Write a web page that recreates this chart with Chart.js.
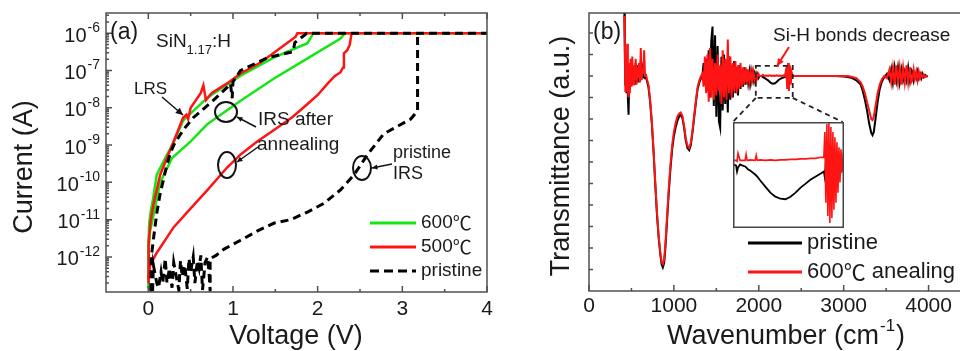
<!DOCTYPE html>
<html>
<head>
<meta charset="utf-8">
<title>SiN1.17:H I-V and FTIR</title>
<script src="https://cdn.jsdelivr.net/npm/chart.js@4.4.1/dist/chart.umd.min.js"></script>
<style>
  html, body { margin: 0; padding: 0; background: #fff; width: 960px; height: 351px; overflow: hidden; }
  canvas { position: absolute; top: 0; }
  #ivChart { left: 0; }
  #ftirChart { left: 540px; }
  #insetChart { background: #fff; }
</style>
</head>
<body>
<canvas id="ivChart" width="500" height="351"></canvas>
<canvas id="ftirChart" width="440" height="351"></canvas>
<canvas id="insetChart"></canvas>
<script>
// ---------- panel (a): I-V sweeps ----------
const voltTicks = [0, 1, 2, 3, 4];
const voltMinor = [0.5, 1.5, 2.5, 3.5];
const currentExps = [-12, -11, -10, -9, -8, -7, -6];

// 600 C, set (LRS) branch
const v600Set = [0, 0.003, 0.01, 0.03, 0.05, 0.1, 0.2, 0.3, 0.41, 0.7, 1.09, 1.48, 1.88, 1.95, 4.0];
const i600Set = [1.4e-13, 2.5e-12, 8e-12, 1.8e-11, 3e-11, 1.6e-10, 4.5e-10, 1.2e-9, 4.5e-9, 1.9e-8, 7.2e-8, 2.2e-7, 5.4e-7, 1e-6, 1e-6];
// 600 C, IRS branch
const v600Irs = [0, 0.003, 0.02, 0.05, 0.14, 0.28, 0.5, 0.7, 1.09, 1.48, 1.88, 2.27, 2.32];
const i600Irs = [1.4e-13, 1.5e-12, 5e-12, 1e-11, 1e-10, 4.5e-10, 1.26e-9, 3.7e-9, 1.55e-8, 6e-8, 2.1e-7, 7.2e-7, 1e-6];
// 500 C, set (LRS) branch
const v500Set = [0, 0.002, 0.005, 0.03, 0.06, 0.14, 0.3, 0.41, 0.45, 0.47, 0.5, 0.62, 0.65, 0.68, 0.75, 0.93, 1.09, 1.33, 1.6, 1.74, 1.76, 4.0];
const i500Set = [2e-13, 8e-13, 2.5e-12, 1e-11, 2.5e-11, 1.6e-10, 1.26e-9, 5.4e-9, 6.5e-9, 5e-9, 1e-8, 2.5e-8, 4e-8, 1.6e-8, 2.5e-8, 4.5e-8, 8.3e-8, 1.66e-7, 4.7e-7, 8e-7, 1e-6, 1e-6];
// 500 C, IRS after annealing
const v500Irs = [0, 0.02, 0.1, 0.3, 0.5, 0.7, 0.93, 1.09, 1.29, 1.48, 1.7, 1.88, 2.0, 2.12, 2.2, 2.27, 2.3, 2.31, 2.35, 2.38, 2.4];
const i500Irs = [2.5e-13, 6e-13, 1.3e-12, 6.3e-12, 2e-11, 6.3e-11, 2.5e-10, 5.6e-10, 1.26e-9, 2.5e-9, 5.6e-9, 1.26e-8, 2.2e-8, 4.5e-8, 7e-8, 9e-8, 1.2e-7, 2.9e-7, 3.5e-7, 5e-7, 1e-6];
// pristine, set branch
const vPriSet = [0.03, 0.035, 0.06, 0.1, 0.14, 0.22, 0.26, 0.3, 0.41, 0.53, 0.77, 0.93, 0.97, 0.99, 1.0, 1.09, 1.41, 1.71, 1.73, 1.85, 1.87, 4.0];
const iPriSet = [1.2e-13, 1e-12, 3e-12, 1.5e-11, 5e-11, 3e-10, 6e-10, 1e-9, 2.5e-9, 5.4e-9, 1.6e-8, 3.5e-8, 4.5e-8, 1.8e-8, 5e-8, 1e-7, 2.2e-7, 3.2e-7, 5.6e-7, 9e-7, 1e-6, 1e-6];
// pristine IRS (noisy floor, then forming)
const vPriIrs = [0.05, 0.06, 0.1, 0.12, 0.15, 0.17, 0.2, 0.22, 0.25, 0.28,
                 0.3, 0.33, 0.36, 0.38, 0.4, 0.43, 0.46, 0.48, 0.5, 0.53,
                 0.55, 0.58, 0.6, 0.62, 0.64, 0.67, 0.7, 0.72, 0.73, 0.73,
                 0.8, 0.89, 1.09, 1.29, 1.48, 1.68, 1.88, 2.07, 2.27, 2.43,
                 2.59, 2.78, 3.1, 3.18, 3.18];
const iPriIrs = [1.2e-13, 6e-13, 2e-13, 1.5e-13, 4e-13, 2e-13, 9e-13, 2e-13, 5e-13, 1.5e-13,
                 7e-13, 3e-13, 1.3e-13, 8e-13, 3e-13, 6e-13, 1.4e-13, 9e-13, 4e-13, 1e-12,
                 2e-13, 8e-13, 5e-13, 1.1e-12, 1.3e-13, 7e-13, 1e-12, 3e-13, 1.2e-13, 9e-13,
                 1.1e-12, 1.6e-12, 2.8e-12, 5e-12, 8e-12, 1e-11, 1.6e-11, 2.7e-11, 6.3e-11, 1.6e-10,
                 5.6e-10, 2e-9, 5e-9, 8.3e-9, 1e-6];

// ---------- panel (b): FTIR ----------
const waveTicks = [0, 1000, 2000, 3000, 4000];
const waveMinor = [500, 1500, 2500, 3500, 4500];
const transTicks = [1, 2, 3, 4, 5, 6, 7, 8, 9, 10, 11, 12];

const waveNum = [
  415, 422, 428, 435, 442, 450, 458, 466, 474, 482, 490, 500, 510, 520, 530,
  540, 550, 560, 570, 580, 590, 600, 610, 620, 630, 640, 650, 660, 670, 680,
  700, 720, 740, 760, 780, 800, 820, 840, 855, 870, 885,
  900, 920, 940, 960, 980, 1000, 1020, 1040, 1060, 1080, 1100,
  1120, 1140, 1160, 1180, 1200, 1220, 1240, 1260, 1280, 1300, 1320,
  1335, 1350, 1365, 1380, 1395, 1410, 1425, 1440, 1455, 1470, 1485, 1500, 1515, 1530, 1545,
  1560, 1575, 1590, 1605, 1620, 1635, 1650, 1665, 1680, 1695, 1710, 1725, 1740, 1755, 1770,
  1785, 1800, 1815, 1830, 1845, 1860, 1875, 1890, 1905, 1920, 1935, 1950, 1965, 1980, 1995, 2010,
  2030, 2050, 2070, 2090, 2110, 2130, 2150, 2170, 2190, 2210, 2230, 2250,
  2270, 2290, 2310, 2325, 2335, 2345, 2355, 2365, 2375, 2385, 2400, 2450,
  2500, 2600, 2700, 2800, 2900, 3000, 3050, 3100, 3150, 3200, 3225, 3250,
  3275, 3300, 3325, 3340, 3355, 3375, 3400, 3425, 3450, 3480, 3510,
  3540, 3560, 3580, 3600, 3620, 3640, 3660, 3680, 3700, 3720, 3740, 3760, 3780, 3795,
  3810, 3825, 3840, 3855, 3870, 3885, 3900, 3915, 3930, 3945, 3960, 3975, 3990
];
const transPristine = [
  13.5, 11.0, 9.6, 10.4, 9.2, 10.5, 9.0, 8.2, 10.0, 9.5, 10.3, 9.7, 10.4, 9.8, 10.2,
  9.6, 10.6, 9.9, 10.5, 9.7, 10.2, 9.9, 10.7, 9.9, 10.3, 10.0, 10.1, 9.9, 10.0, 9.8,
  9.5, 8.8, 7.8, 6.5, 5.0, 3.6, 2.5, 1.7, 1.25, 1.1, 1.3,
  2.0, 3.3, 4.6, 5.7, 6.6, 7.2, 7.6, 7.9, 8.1, 8.2, 8.05,
  7.6, 7.0, 6.65, 6.55, 6.8, 7.4, 8.1, 8.8, 9.4, 9.7, 9.9,
  10.0, 10.6, 9.6, 10.8, 9.3, 11.2, 9.0, 11.6, 12.3, 8.6, 11.9, 8.1, 11.4, 7.9, 7.6,
  10.9, 8.4, 11.0, 8.7, 10.6, 8.3, 10.9, 8.9, 10.5, 9.0, 10.7, 9.2, 10.4, 9.1, 10.5,
  9.4, 10.3, 9.5, 10.4, 9.6, 10.3, 9.7, 10.2, 9.7, 10.2, 9.8, 10.1, 9.8, 10.1, 9.9, 10.0,
  10.0, 9.95, 9.9, 9.85, 9.8, 9.72, 9.66, 9.64, 9.66, 9.72, 9.8, 9.86,
  9.9, 9.93, 9.96, 10.2, 9.6, 10.5, 9.5, 10.4, 9.7, 10.1, 10.0, 10.0,
  10.0, 10.0, 10.0, 10.0, 10.0, 9.98, 9.95, 9.9, 9.8, 9.6, 9.3, 8.9,
  8.4, 7.8, 7.35, 7.25, 7.4, 8.0, 8.8, 9.4, 9.75, 9.95, 10.1,
  9.8, 10.3, 9.7, 10.4, 9.8, 10.4, 9.7, 10.3, 9.8, 10.2, 9.8, 10.4, 9.8, 10.3,
  10.2, 9.8, 10.1, 9.9, 10.2, 9.9, 10.1, 9.9, 10.1, 9.95, 10.05, 10.0, 9.95
];
const transAnneal = [
  12.8, 11.8, 9.3, 10.8, 9.5, 11.5, 9.4, 9.0, 10.6, 9.2, 10.8, 9.5, 10.9, 9.6, 10.5,
  9.8, 10.8, 9.6, 10.4, 9.9, 10.6, 9.7, 11.3, 9.8, 10.4, 10.1, 11.2, 10.0, 10.1, 9.9,
  9.6, 8.9, 7.9, 6.6, 5.1, 3.7, 2.6, 1.8, 1.35, 1.25, 1.45,
  2.2, 3.5, 4.8, 5.9, 6.8, 7.4, 7.8, 8.1, 8.25, 8.3, 8.15,
  7.7, 7.1, 6.75, 6.65, 6.9, 7.5, 8.2, 8.9, 9.5, 9.8, 10.0,
  10.1, 9.5, 10.9, 9.2, 11.0, 8.8, 11.3, 9.0, 10.8, 8.9, 10.6, 9.1, 11.0, 9.3, 10.5,
  8.7, 11.2, 9.0, 10.8, 8.9, 11.7, 9.2, 10.9, 9.0, 10.6, 9.3, 10.7, 9.2, 10.5, 9.4,
  10.6, 9.5, 10.4, 9.6, 10.4, 9.7, 10.3, 9.7, 10.2, 9.8, 10.2, 9.8, 10.1, 9.9, 10.1, 10.0,
  10.0, 10.05, 10.0, 10.02, 10.0, 10.03, 10.0, 10.02, 10.0, 10.03, 10.0, 10.02,
  10.0, 10.03, 10.0, 10.4, 9.4, 10.6, 9.3, 10.5, 9.6, 10.2, 10.0, 10.0,
  10.0, 10.0, 10.0, 10.0, 10.0, 10.0, 10.0, 9.95, 9.9, 9.7, 9.5, 9.2,
  8.8, 8.4, 8.0, 7.95, 8.1, 8.6, 9.2, 9.6, 9.85, 10.0, 9.9,
  10.3, 9.7, 10.4, 9.6, 10.5, 9.7, 10.4, 9.6, 10.4, 9.7, 10.5, 9.7, 10.4, 9.7,
  9.8, 10.3, 9.9, 10.2, 9.8, 10.2, 9.9, 10.1, 9.95, 10.05, 9.95, 10.0, 10.0
];

// inset: Si-H region, zoomed
const insetWave = [1960, 1972, 1976, 1980, 1988, 1996, 2008, 2012, 2016, 2020,
                   2028, 2048, 2052, 2056, 2068, 2088, 2108, 2128, 2148, 2168,
                   2188, 2208, 2228, 2248, 2268, 2288, 2308, 2320, 2324, 2328,
                   2332, 2336, 2340, 2344, 2348, 2352, 2356, 2360, 2364, 2368,
                   2372, 2376, 2380, 2384, 2388, 2392, 2396, 2400];
const insetPristine = [63, 62, 56, 60, 63, 62, 61, 60, 59, 58,
                       57, 53, 52, 51, 47, 41, 35, 31, 29, 28.5,
                       31, 35, 40, 44, 48, 51, 54, 56, 50, 66,
                       44, 70, 42, 68, 46, 64, 50, 62, 52, 60,
                       55, 59, 56, 60, 57, 62, 66, 72];
const insetAnneal = [67, 67, 66, 74, 67, 67, 67, 73, 67, 67,
                     67.5, 67, 72, 67, 67.5, 67, 67.5, 67, 67.5, 67.5,
                     68, 68, 68.5, 68.5, 69, 69, 70, 70, 95, 25,
                     103, 12, 104, 5, 100, 10, 95, 18, 90, 25,
                     85, 35, 80, 45, 78, 55, 70, 65];

// where the dashed zoom box and the inset sit, in panel (b) data units
const zoomBox = { w0: 1965, w1: 2400, t0: 8.98, t1: 10.47 };
const insetBox = { w0: 1694, w1: 2988, t0: 2.98, t1: 7.86 };

const FONT = '"Liberation Sans", Arial, Helvetica, sans-serif';
const CJK = '"Noto Sans CJK SC", sans-serif';
const INK = '#1a1a1a';
const AXIS = '#505050';
const GREEN = '#14e614';
const RED = '#ff1414';

Chart.defaults.font.family = FONT;

function pts(xs, ys) {
  return xs.map((x, k) => ({ x: x, y: ys[k] }));
}
function line(xs, ys, color, width, dash, order) {
  return {
    data: pts(xs, ys), borderColor: color, backgroundColor: color,
    borderWidth: width, borderDash: dash || [], pointRadius: 0,
    showLine: true, tension: 0, order: order
  };
}
function font(px) { return px + 'px ' + FONT; }
function text(ctx, s, x, y, px, align) {
  ctx.font = font(px);
  ctx.textAlign = align || 'left';
  ctx.textBaseline = 'middle';
  ctx.fillStyle = INK;
  ctx.fillText(s, x, y);
}
// label that may hold a degree-Celsius sign, drawn with the CJK face for that glyph
function celsiusText(ctx, s, x, y, px) {
  const parts = s.split('℃');
  let cx = x;
  parts.forEach((p, k) => {
    if (p) {
      text(ctx, p, cx, y, px);
      ctx.font = font(px); cx += ctx.measureText(p).width;
    }
    if (k < parts.length - 1) {
      ctx.font = px + 'px ' + CJK; ctx.textAlign = 'left'; ctx.textBaseline = 'middle';
      ctx.fillStyle = INK; ctx.fillText('℃', cx, y);
      cx += ctx.measureText('℃').width;
    }
  });
}
function vtext(ctx, s, x, y, px) {
  ctx.save();
  ctx.translate(x, y);
  ctx.rotate(-Math.PI / 2);
  text(ctx, s, 0, 0, px, 'center');
  ctx.restore();
}
function arrow(ctx, x0, y0, x1, y1, color, w, head) {
  ctx.strokeStyle = color; ctx.fillStyle = color; ctx.lineWidth = w;
  ctx.setLineDash([]);
  ctx.beginPath(); ctx.moveTo(x0, y0); ctx.lineTo(x1, y1); ctx.stroke();
  const ang = Math.atan2(y1 - y0, x1 - x0);
  ctx.beginPath();
  ctx.moveTo(x1, y1);
  ctx.lineTo(x1 - head * Math.cos(ang - 0.45), y1 - head * Math.sin(ang - 0.45));
  ctx.lineTo(x1 - head * Math.cos(ang + 0.45), y1 - head * Math.sin(ang + 0.45));
  ctx.closePath(); ctx.fill();
}
function ellipse(ctx, cx, cy, rx, ry) {
  ctx.strokeStyle = '#111'; ctx.lineWidth = 2; ctx.setLineDash([]);
  ctx.beginPath(); ctx.ellipse(cx, cy, rx, ry, 0, 0, Math.PI * 2); ctx.stroke();
}
function hiddenScale(extra, size, vertical) {
  return Object.assign({
    ticks: { display: false },
    grid: { display: false },
    border: { display: false },
    afterFit: s => { if (vertical) s.width = size; else s.height = size; }
  }, extra);
}
function powLabel(ctx, right, cy, exp) {
  const sup = String(exp);
  ctx.font = font(14); const ws = ctx.measureText(sup).width;
  ctx.font = font(20); const wb = ctx.measureText('10').width;
  const x0 = right - ws - wb - 1;
  text(ctx, '10', x0, cy + 3, 20);
  text(ctx, sup, x0 + wb + 1, cy - 5, 14);
}

// ---------- panel (a) decorations ----------
const ivDecor = {
  id: 'ivDecor',
  afterDraw(chart) {
    const { ctx, chartArea: a, scales: { x, y } } = chart;
    ctx.save();
    ctx.setLineDash([]);
    ctx.strokeStyle = AXIS; ctx.lineWidth = 1.5;
    ctx.strokeRect(a.left, a.top, a.right - a.left, a.bottom - a.top);
    ctx.beginPath();
    voltTicks.forEach(v => {
      const px = x.getPixelForValue(v);
      ctx.moveTo(px, a.bottom); ctx.lineTo(px, a.bottom - 6);
      ctx.moveTo(px, a.top); ctx.lineTo(px, a.top + 6);
    });
    voltMinor.forEach(v => {
      const px = x.getPixelForValue(v);
      ctx.moveTo(px, a.bottom); ctx.lineTo(px, a.bottom - 3);
      ctx.moveTo(px, a.top); ctx.lineTo(px, a.top + 3);
    });
    currentExps.forEach(e => {
      const py = y.getPixelForValue(Math.pow(10, e));
      ctx.moveTo(a.left, py); ctx.lineTo(a.left + 6, py);
    });
    for (let e = -13; e <= -6; e++) {
      for (let m = 2; m <= 9; m++) {
        const val = m * Math.pow(10, e);
        if (val < y.min || val > y.max) continue;
        const py = y.getPixelForValue(val);
        ctx.moveTo(a.left, py); ctx.lineTo(a.left + 3, py);
      }
    }
    ctx.stroke();

    voltTicks.forEach(v => text(ctx, String(v), x.getPixelForValue(v), 309, 21, 'center'));
    currentExps.forEach(e => powLabel(ctx, a.left - 6, y.getPixelForValue(Math.pow(10, e)), e));
    vtext(ctx, 'Current (A)', 25, 167, 27);
    text(ctx, 'Voltage (V)', 296, 337, 27, 'center');

    // labels inside the plot
    text(ctx, '(a)', 110, 33, 23);
    ctx.font = font(19); ctx.textAlign = 'left'; ctx.textBaseline = 'alphabetic'; ctx.fillStyle = INK;
    ctx.fillText('SiN', 156, 47);
    let cx = 156 + ctx.measureText('SiN').width;
    ctx.font = font(13); ctx.fillText('1.17', cx, 54);
    cx += ctx.measureText('1.17').width;
    ctx.font = font(19); ctx.fillText(':H', cx, 47);

    text(ctx, 'LRS', 134, 89, 17);
    arrow(ctx, 162, 97, 183, 115, '#111', 1.5, 8);

    ellipse(ctx, 226, 112, 11, 10);
    arrow(ctx, 256, 127, 237, 117, '#111', 1.5, 6);
    text(ctx, 'IRS after', 258, 120, 19);
    text(ctx, 'annealing', 257, 145, 19);

    ellipse(ctx, 227, 165, 9, 13);
    arrow(ctx, 258, 147, 237, 162, '#111', 1.5, 6);

    ellipse(ctx, 362, 168, 9, 12);
    arrow(ctx, 392, 164, 372, 168, '#111', 1.5, 6);
    text(ctx, 'pristine', 393, 153, 18);
    text(ctx, 'IRS', 393, 174, 18);

    // legend
    const legA = [['600℃', GREEN, []], ['500℃', RED, []], ['pristine', '#000', [9, 5]]];
    legA.forEach((l, k) => {
      const yy = 223 + k * 24;
      ctx.strokeStyle = l[1]; ctx.lineWidth = 3; ctx.setLineDash(l[2]);
      ctx.beginPath(); ctx.moveTo(370, yy); ctx.lineTo(416, yy); ctx.stroke();
      ctx.setLineDash([]);
      celsiusText(ctx, l[0], 421, yy, 19);
    });
    ctx.restore();
  }
};

new Chart(document.getElementById('ivChart'), {
  type: 'scatter',
  data: {
    datasets: [
      line(v600Set, i600Set, GREEN, 2.5, [], 3),
      line(v600Irs, i600Irs, GREEN, 2.5, [], 3),
      line(v500Set, i500Set, RED, 2.5, [], 2),
      line(v500Irs, i500Irs, RED, 2.5, [], 2),
      line(vPriSet, iPriSet, '#000', 3, [8, 5], 1),
      line(vPriIrs, iPriIrs, '#000', 3, [8, 5], 1)
    ]
  },
  options: {
    responsive: false, animation: false, devicePixelRatio: 1, events: [],
    layout: { padding: { left: 0, top: 13, right: 13, bottom: 0 } },
    plugins: { legend: { display: false }, tooltip: { enabled: false } },
    scales: {
      x: hiddenScale({ type: 'linear', min: -0.5, max: 4 }, 59, false),
      y: hiddenScale({ type: 'logarithmic', min: 1.15e-13, max: 3.47e-6 }, 106, true)
    }
  },
  plugins: [ivDecor]
});

// ---------- panel (b) decorations ----------
const ftirDecor = {
  id: 'ftirDecor',
  afterDraw(chart) {
    const { ctx, chartArea: a, scales: { x, y } } = chart;
    const X = v => x.getPixelForValue(v);
    const Y = v => y.getPixelForValue(v);
    ctx.save();
    ctx.setLineDash([]);
    ctx.strokeStyle = AXIS; ctx.lineWidth = 1.5;
    ctx.strokeRect(a.left, a.top, a.right - a.left, a.bottom - a.top);
    ctx.beginPath();
    waveTicks.forEach(w => { ctx.moveTo(X(w), a.bottom); ctx.lineTo(X(w), a.bottom - 6); });
    waveMinor.forEach(w => { ctx.moveTo(X(w), a.bottom); ctx.lineTo(X(w), a.bottom - 3); });
    transTicks.forEach(t => { ctx.moveTo(a.left, Y(t)); ctx.lineTo(a.left + 4, Y(t)); });
    ctx.stroke();

    waveTicks.forEach(w => text(ctx, String(w), X(w), 306, 21, 'center'));
    vtext(ctx, 'Transmittance (a.u.)', 22, 156, 27);
    // Wavenumber (cm-1) with superscript
    const t1 = 'Wavenumber (cm', t2 = '-1', t3 = ')';
    ctx.font = font(27); const w1 = ctx.measureText(t1).width, w3 = ctx.measureText(t3).width;
    ctx.font = font(17); const w2 = ctx.measureText(t2).width;
    let sx = 246 - (w1 + w2 + w3 + 2) / 2;
    text(ctx, t1, sx, 337, 27); sx += w1 + 1;
    text(ctx, t2, sx, 326, 17); sx += w2 + 1;
    text(ctx, t3, sx, 337, 27);

    text(ctx, '(b)', 53, 33, 23);

    // dashed zoom box and connectors to the inset
    ctx.strokeStyle = '#222'; ctx.lineWidth = 1.8; ctx.setLineDash([5, 4]);
    ctx.strokeRect(X(zoomBox.w0), Y(zoomBox.t1), X(zoomBox.w1) - X(zoomBox.w0), Y(zoomBox.t0) - Y(zoomBox.t1));
    ctx.beginPath();
    ctx.moveTo(X(zoomBox.w0), Y(zoomBox.t0)); ctx.lineTo(X(insetBox.w0), Y(insetBox.t1));
    ctx.moveTo(X(zoomBox.w1), Y(zoomBox.t0)); ctx.lineTo(X(insetBox.w1), Y(insetBox.t1));
    ctx.stroke();
    ctx.setLineDash([]);

    text(ctx, 'Si-H bonds decrease', 233, 36, 19);
    arrow(ctx, 249, 47, 237, 66, RED, 2, 8);

    // legend
    const legB = [['pristine', '#000'], ['600℃ anealing', RED]];
    legB.forEach((l, k) => {
      const yy = 243 + k * 29;
      ctx.strokeStyle = l[1]; ctx.lineWidth = 3;
      ctx.beginPath(); ctx.moveTo(208, yy); ctx.lineTo(262, yy); ctx.stroke();
      celsiusText(ctx, l[0], 267, yy, 22);
    });
    ctx.restore();
  }
};

const ftir = new Chart(document.getElementById('ftirChart'), {
  type: 'scatter',
  data: {
    datasets: [
      line(waveNum, transAnneal, RED, 2, [], 1),
      line(waveNum, transPristine, '#000', 2, [], 2)
    ]
  },
  options: {
    responsive: false, animation: false, devicePixelRatio: 1, events: [],
    layout: { padding: { left: 0, top: 13, right: 9, bottom: 0 } },
    plugins: { legend: { display: false }, tooltip: { enabled: false } },
    scales: {
      x: hiddenScale({ type: 'linear', min: 0, max: 4500 }, 60, false),
      y: hiddenScale({ type: 'linear', min: 0, max: 12.93 }, 49, true)
    }
  },
  plugins: [ftirDecor]
});

// ---------- inset ----------
const fx = ftir.scales.x, fy = ftir.scales.y;
const inCanvas = document.getElementById('insetChart');
const inLeft = Math.round(540 + fx.getPixelForValue(insetBox.w0));
const inTop = Math.round(fy.getPixelForValue(insetBox.t1));
inCanvas.width = Math.round(fx.getPixelForValue(insetBox.w1) - fx.getPixelForValue(insetBox.w0)) + 1;
inCanvas.height = Math.round(fy.getPixelForValue(insetBox.t0) - fy.getPixelForValue(insetBox.t1)) + 1;
inCanvas.style.left = inLeft + 'px';
inCanvas.style.top = inTop + 'px';

const insetFrame = {
  id: 'insetFrame',
  afterDraw(chart) {
    const ctx = chart.ctx;
    ctx.save();
    ctx.strokeStyle = '#444'; ctx.lineWidth = 1.5;
    ctx.strokeRect(0.75, 0.75, chart.width - 1.5, chart.height - 1.5);
    ctx.restore();
  }
};

new Chart(inCanvas, {
  type: 'scatter',
  data: {
    datasets: [
      line(insetWave, insetAnneal, RED, 1.6, [], 1),
      line(insetWave, insetPristine, '#000', 1.8, [], 2)
    ]
  },
  options: {
    responsive: false, animation: false, devicePixelRatio: 1, events: [],
    layout: { padding: 0 },
    plugins: { legend: { display: false }, tooltip: { enabled: false } },
    scales: {
      x: { type: 'linear', min: 1960, max: 2400, display: false },
      y: { type: 'linear', min: 0, max: 105, display: false }
    }
  },
  plugins: [insetFrame]
});
</script>
</body>
</html>
